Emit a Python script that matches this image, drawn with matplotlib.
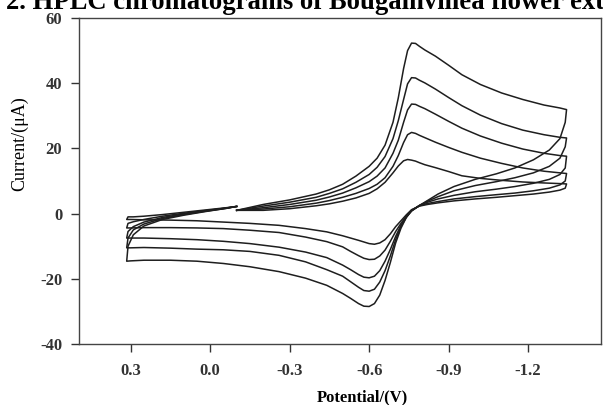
import matplotlib
matplotlib.use("Agg")
import matplotlib.pyplot as plt

plt.rcParams['axes.unicode_minus'] = False

# potential grid (V) for each part of the sweep
fwd_v = [-0.10, -0.20, -0.30, -0.40, -0.45, -0.50, -0.55, -0.60, -0.63, -0.66, -0.69,
         -0.71, -0.73, -0.745, -0.76, -0.775, -0.79, -0.81, -0.85, -0.90, -0.95, -1.02,
         -1.10, -1.18, -1.26, -1.32, -1.345]
rev_v = [-1.34, -1.32, -1.28, -1.22, -1.15, -1.08, -1.00, -0.92, -0.86, -0.82, -0.79,
         -0.76, -0.74, -0.72, -0.70, -0.68, -0.66, -0.64, -0.62, -0.60, -0.58, -0.56,
         -0.53, -0.50, -0.44, -0.36, -0.26, -0.15, -0.05, 0.05, 0.15, 0.25, 0.30, 0.315]
back_v = [0.31, 0.29, 0.25, 0.18, 0.10, 0.02, -0.06, -0.10]

# currents (uA), largest scan rate first
fwd_i = [
    [1.0, 2.8, 4.2, 6.0, 7.3, 9.0, 11.5, 14.5, 17.0, 21.0, 28.0, 35.5, 44.5, 50.0, 52.3,
     52.2, 51.3, 50.2, 48.3, 45.5, 42.6, 39.6, 37.0, 35.0, 33.3, 32.4, 31.9],
    [1.0, 2.3, 3.5, 5.0, 6.2, 7.6, 9.6, 12.0, 14.2, 17.5, 23.0, 28.5, 35.0, 39.8, 41.7,
     41.6, 40.9, 40.1, 38.2, 35.6, 33.1, 30.2, 27.6, 25.6, 24.2, 23.4, 23.2],
    [1.0, 1.8, 2.8, 4.1, 5.1, 6.3, 7.9, 9.8, 11.5, 14.0, 18.5, 22.5, 28.0, 31.8, 33.6,
     33.5, 32.9, 32.2, 30.5, 28.3, 26.2, 23.8, 21.6, 19.8, 18.5, 17.8, 17.6],
    [1.0, 1.4, 2.1, 3.2, 4.0, 5.0, 6.2, 7.7, 9.0, 11.0, 14.5, 17.8, 21.8, 24.2, 24.9,
     24.6, 24.0, 23.3, 21.9, 20.3, 18.8, 17.0, 15.4, 14.0, 13.0, 12.5, 12.3],
    [1.0, 1.0, 1.5, 2.4, 3.0, 3.8, 4.8, 6.2, 7.6, 9.6, 12.5, 14.6, 16.2, 16.6, 16.4,
     16.1, 15.6, 15.0, 14.1, 12.9, 11.6, 10.8, 10.2, 9.7, 9.4, 9.2, 9.1],
]
rev_i = [
    [28.0, 23.0, 19.5, 16.5, 14.0, 12.2, 10.5, 8.3, 6.0, 4.0, 2.5, 1.0, -1.2, -4.5, -9.0,
     -15.0, -20.5, -25.0, -27.6, -28.5, -28.4, -27.6, -26.0, -24.5, -22.0, -19.8, -17.8,
     -16.3, -15.3, -14.6, -14.3, -14.3, -14.5, -14.6],
    [20.5, 17.0, 14.5, 12.5, 11.0, 9.8, 8.6, 7.0, 5.2, 3.8, 2.5, 0.8, -1.2, -4.0, -8.0,
     -13.0, -17.5, -21.0, -23.2, -23.8, -23.6, -22.6, -20.9, -19.2, -17.2, -14.8, -12.8,
     -11.6, -11.1, -10.9, -10.6, -10.4, -10.5, -10.5],
    [14.0, 12.0, 10.5, 9.3, 8.3, 7.5, 6.7, 5.6, 4.5, 3.5, 2.5, 0.8, -1.0, -3.6, -7.0,
     -11.0, -14.6, -17.5, -19.2, -19.7, -19.5, -18.7, -17.2, -15.8, -13.5, -11.8, -10.3,
     -9.2, -8.5, -8.0, -7.7, -7.5, -7.5, -7.5],
    [10.0, 8.8, 7.8, 7.0, 6.3, 5.8, 5.2, 4.5, 3.7, 3.1, 2.4, 1.0, -0.8, -3.0, -5.5, -8.5,
     -11.2, -13.0, -14.0, -14.1, -13.7, -12.9, -11.6, -10.2, -8.6, -7.2, -5.8, -5.1, -4.6,
     -4.4, -4.3, -4.3, -4.4, -4.4],
    [7.8, 7.2, 6.6, 6.0, 5.5, 5.0, 4.5, 3.9, 3.3, 2.8, 2.3, 1.2, -0.4, -2.2, -4.0, -6.2,
     -8.0, -9.0, -9.4, -9.2, -8.7, -8.2, -7.5, -6.8, -5.6, -4.6, -3.6, -3.0, -2.6, -2.2,
     -2.0, -1.9, -1.8, -1.8],
]
back_i = [
    [-10.0, -6.5, -3.8, -1.8, -0.5, 0.6, 1.6, 2.2],
    [-7.5, -5.0, -3.2, -1.5, -0.3, 0.7, 1.6, 2.2],
    [-5.5, -4.0, -2.6, -1.2, -0.1, 0.8, 1.7, 2.2],
    [-3.0, -2.5, -1.8, -0.8, 0.1, 0.9, 1.7, 2.2],
    [-1.0, -1.0, -0.8, -0.3, 0.4, 1.1, 1.8, 2.2],
]

x_ticks = [0.3, 0.0, -0.3, -0.6, -0.9, -1.2]
x_labels = ['0.3', '0.0', '-0.3', '-0.6', '-0.9', '-1.2']
y_ticks = [-40, -20, 0, 20, 40, 60]

serif = 'Liberation Serif'

fig = plt.figure(figsize=(6.03, 4.05), dpi=100)
ax = fig.add_axes([79 / 603, 1 - 344 / 405, (601 - 79) / 603, (344 - 18) / 405])

for k in range(len(fwd_i)):
    v = fwd_v + rev_v + back_v
    i = fwd_i[k] + rev_i[k] + back_i[k]
    ax.plot(v, i, color='#1e1e1e', linewidth=1.1)

ax.set_xlim(0.495, -1.475)
ax.set_ylim(-40, 60)
ax.set_xticks(x_ticks)
ax.set_xticklabels(x_labels)
ax.set_yticks(y_ticks)
for lab in ax.get_xticklabels() + ax.get_yticklabels():
    lab.set_fontfamily(serif)
    lab.set_fontweight('bold')
    lab.set_fontsize(12)
ax.tick_params(direction='out', length=6, width=1, colors='#333333', pad=6)
ax.tick_params(axis='x', pad=8)
for sp in ax.spines.values():
    sp.set_color('#444444')
    sp.set_linewidth(1.0)

# axis labels
fig.text(20 / 603, 1 - 144 / 405, 'Current/(\u03bcA)', rotation=90, ha='center', va='center',
         fontfamily=serif, fontsize=13)
fig.text(362 / 603, 1 - 397 / 405, 'Potential/(V)', ha='center', va='center',
         fontfamily=serif, fontsize=12, fontweight='bold')

# clipped caption at the very top
fig.text(6 / 603, 1 - 9 / 405, '2. HPLC chromatograms of Bougainvillea flower extracts',
         ha='left', va='baseline', fontfamily=serif, fontsize=19.2, fontweight='bold')

fig.savefig('out.png', dpi=100)
